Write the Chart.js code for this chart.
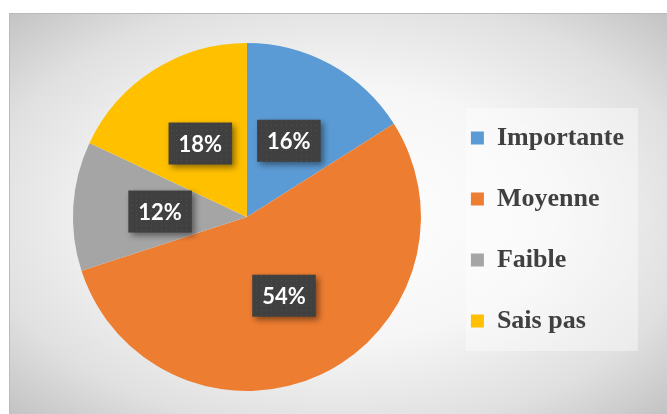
<!DOCTYPE html>
<html>
<head>
<meta charset="utf-8">
<script src="https://cdn.jsdelivr.net/npm/chart.js@4"></script>
<style>
  body { margin: 0; background: #fff; }
  #cadre {
    position: absolute; left: 9px; top: 13px; width: 658px; height: 401px;
    background: radial-gradient(ellipse farthest-corner at 50% 50%, #ffffff 0%, #f6f6f6 45%, #e0e0e0 77%, #c3c3c3 100%);
    box-shadow: inset 1px 1px 0 #bbbbbb;
  }
</style>
</head>
<body>
<div id="cadre"><canvas id="chart"></canvas></div>
<script>
// Données du graphique
const categories = ['Importante', 'Moyenne', 'Faible', 'Sais pas'];
const valeurs = [16, 54, 12, 18];
const couleurs = ['#5B9BD5', '#ED7D31', '#A5A5A5', '#FFC000'];

// petit motif pointillé pour les étiquettes
const motif = document.createElement('canvas');
motif.width = 5; motif.height = 5;
const mctx = motif.getContext('2d');
mctx.fillStyle = '#404040';
mctx.fillRect(0, 0, 5, 5);
mctx.fillStyle = '#4e4e4e';
mctx.fillRect(2, 2, 1, 1);

// Décale la légende et dessine son fond
const pluginLegende = {
  id: 'fondLegende',
  afterLayout(chart) {
    const l = chart.legend;
    l.top += 12.5;
    l.bottom += 12.5;
  },
  beforeDraw(chart) {
    const boxes = chart.legend.legendHitBoxes;
    if (!boxes || !boxes.length) return;
    const x0 = Math.min(...boxes.map(b => b.left)) - 5;
    const x1 = Math.max(...boxes.map(b => b.left + b.width)) + 14;
    const y0 = boxes[0].top - 17;
    const y1 = boxes[boxes.length - 1].top + boxes[boxes.length - 1].height + 17;
    const ctx = chart.ctx;
    ctx.save();
    ctx.fillStyle = 'rgba(255,255,255,0.4)';
    ctx.fillRect(x0, y0, x1 - x0, y1 - y0);
    ctx.restore();
  }
};

// Étiquettes de pourcentage
const pluginEtiquettes = {
  id: 'etiquettes',
  afterDatasetsDraw(chart) {
    const ctx = chart.ctx;
    const total = valeurs.reduce((a, b) => a + b, 0);
    const pattern = ctx.createPattern(motif, 'repeat');
    chart.getDatasetMeta(0).data.forEach((arc, i) => {
      const p = arc.getProps(['x', 'y', 'startAngle', 'endAngle', 'outerRadius'], true);
      const a = (p.startAngle + p.endAngle) / 2;
      const r = p.outerRadius * 0.5;
      const cx = p.x + Math.cos(a) * r;
      const cy = p.y + Math.sin(a) * r;
      const texte = Math.round(valeurs[i] / total * 100) + '%';
      ctx.save();
      ctx.font = 'bold 22px Lato';
      const w = ctx.measureText(texte).width + 20;
      const h = 42;
      ctx.shadowColor = 'rgba(0,0,0,0.45)';
      ctx.shadowBlur = 6;
      ctx.shadowOffsetX = 3;
      ctx.shadowOffsetY = 3;
      ctx.fillStyle = pattern;
      ctx.fillRect(cx - w / 2, cy - h / 2, w, h);
      ctx.shadowColor = 'transparent';
      ctx.fillStyle = '#ffffff';
      ctx.textAlign = 'center';
      ctx.textBaseline = 'middle';
      ctx.fillText(texte, cx, cy + 1);
      ctx.restore();
    });
  }
};

const ctx = document.getElementById('chart').getContext('2d');
new Chart(ctx, {
  type: 'pie',
  data: {
    labels: categories,
    datasets: [{
      data: valeurs,
      backgroundColor: couleurs,
      borderWidth: 0
    }]
  },
  options: {
    responsive: true,
    maintainAspectRatio: false,
    animation: false,
    layout: { padding: { left: 49, top: 30, bottom: 23, right: 33 } },
    plugins: {
      tooltip: { enabled: false },
      legend: {
        position: 'right',
        labels: {
          boxWidth: 13,
          boxHeight: 13,
          padding: 35,
          color: '#404040',
          font: { family: 'Liberation Serif', size: 26, weight: 'bold' }
        }
      }
    }
  },
  plugins: [pluginLegende, pluginEtiquettes]
});
</script>
</body>
</html>
